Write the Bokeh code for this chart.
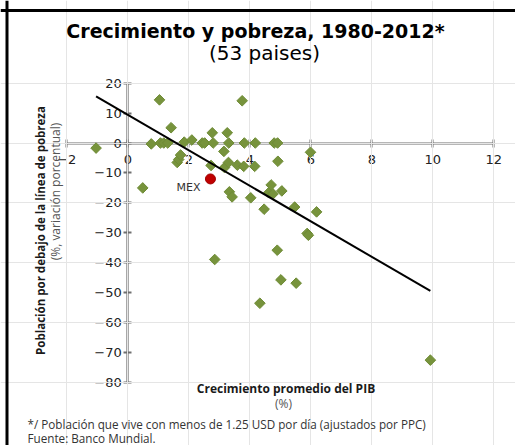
import numpy as np
from bokeh.plotting import figure
from bokeh.models import LinearAxis, FixedTicker, Range1d, Label, Span
from bokeh.embed import file_html
from bokeh.resources import INLINE

# ---------------- data ----------------
growth = [-1.04, 0.49, 0.77, 1.04, 1.07, 1.18, 1.31, 1.42, 1.62, 1.67,
          1.73, 1.85, 2.10, 2.44, 2.52, 2.77, 2.80, 2.73, 2.85, 3.15,
          3.17, 3.26, 3.30, 3.31, 3.33, 3.42, 3.59, 3.75, 3.80, 3.82,
          4.03, 4.16, 4.18, 4.33, 4.47, 4.62, 4.70, 4.76, 4.80, 4.90,
          4.91, 4.92, 5.02, 5.05, 5.47, 5.52, 5.88, 5.92, 5.99, 6.19,
          9.92]
poverty = [-1.7, -15.0, -0.3, 14.4, 0.0, 0.0, 0.0, 5.1, -6.5, -5.5,
           -4.0, 0.3, 1.0, 0.0, 0.0, 3.4, 0.0, -7.5, -38.9, -2.8,
           -8.2, 3.4, -6.5, 0.0, -16.3, -18.0, -7.4, 14.1, -7.8, 0.0,
           -18.3, -7.8, 0.0, -53.5, -22.1, -16.6, -14.0, -17.0, 0.0, -35.8,
           0.0, -6.1, -45.7, -16.0, -21.4, -46.8, -30.2, -30.8, -3.1, -23.0,
           -72.5]
mex_growth = [2.71]
mex_poverty = [-12.0]
mex_label = ["MEX"]
trend_growth = [-1.04, 9.92]
trend_poverty = [15.6, -49.4]
x_ticks = [-2, 0, 2, 4, 6, 8, 10, 12]
y_ticks = [-80, -70, -60, -50, -40, -30, -20, -10, 0, 10, 20]

title_text = "Crecimiento y pobreza, 1980-2012*"
subtitle_text = "(53 paises)"
xlabel_text = "Crecimiento promedio del PIB"
xunit_text = "(%)"
ylabel_text = "Población por debajo de la línea de pobreza"
yunit_text = "(%, variación porcentual)"
note_text = "*/ Población que vive con menos de 1.25 USD por día (ajustados por PPC)"
source_text = "Fuente: Banco Mundial."

# ---------------- layout helpers (page pixels -> data) ----------------
W, H = 515, 445
PAGE = 0
X0, XS = 127.3, 30.5     # page px of x=0, px per unit
Y0, YS = 142.5, 2.995    # page px of y=0, px per unit


def dx(px):
    return (px - X0) / XS


def dy(py):
    return (Y0 - py) / YS


p = figure(width=W, height=H,
           x_range=Range1d(dx(PAGE), dx(PAGE + W)),
           y_range=Range1d(dy(PAGE + H), dy(PAGE)),
           output_backend="svg", toolbar_location=None, tools="",
           x_axis_location=None, y_axis_location=None, min_border=0)
p.outline_line_color = None
p.background_fill_color = "white"
p.border_fill_color = "white"

AX = "#6f6f6f"
common = dict(axis_line_color=AX, axis_line_width=2.2,
              major_tick_line_color=AX, major_tick_line_width=2,
              major_tick_in=4, major_tick_out=4,
              minor_tick_line_color=None,
              major_label_text_font="DejaVu Sans",
              major_label_text_font_size="13px",
              major_label_text_color="#222222",
              level="underlay")

xaxis = LinearAxis(fixed_location=0, ticker=FixedTicker(ticks=x_ticks),
                   bounds=(x_ticks[0], x_ticks[-1]), major_label_standoff=8, **common)
yaxis = LinearAxis(fixed_location=0, ticker=FixedTicker(ticks=y_ticks),
                   bounds=(y_ticks[0], y_ticks[-1]), major_label_standoff=2, **common)
p.add_layout(xaxis, "below")
p.add_layout(yaxis, "left")

# points
p.scatter(growth, poverty, marker="square", angle=np.pi / 4, size=7.5,
          fill_color="#77933C", line_color="#6E8B35", line_width=1)
# trend line
p.line(trend_growth, trend_poverty, line_color="black", line_width=2)
# Mexico
p.scatter(mex_growth, mex_poverty, marker="circle", size=10,
          fill_color="#C00000", line_color="#A00000")
p.text(mex_growth, mex_poverty, text=mex_label, x_offset=-22, y_offset=9,
       text_align="center", text_baseline="middle",
       text_font={"value": "DejaVu Sans"}, text_font_size="11px", text_color="#333333")

# frame lines (top and left)
p.add_layout(Span(location=dy(10), dimension="width", line_color="black", line_width=3))
p.add_layout(Span(location=dx(6.5), dimension="height", line_color="black", line_width=3))

def lab(text, px, py, font="Open Sans", size="12px", style="normal",
        color="#222222", align="center", angle=0.0):
    p.add_layout(Label(x=dx(px), y=dy(py), text=text, text_font=font,
                       text_font_size=size, text_font_style=style,
                       text_color=color, text_align=align,
                       text_baseline="middle", angle=angle))

lab(title_text, 255, 30.5, font="DejaVu Sans", size="19px", style="bold", color="black")
lab(subtitle_text, 264, 52.5, font="DejaVu Sans", size="20px", color="black")
lab(xlabel_text, 285.5, 388, size="12px", style="bold", color="#1a1a1a")
lab(xunit_text, 283, 403, size="12px", color="#555555")
lab(ylabel_text, 40, 230, size="11.5px", style="bold", color="#1a1a1a", angle=np.pi / 2)
lab(yunit_text, 55, 191, size="12px", color="#555555", angle=np.pi / 2)
lab(note_text, 27, 423, size="11.7px", color="#333333", align="left")
lab(source_text, 27, 437.5, size="11.7px", color="#333333", align="left")

open("out.html", "w").write(file_html(p, INLINE))
